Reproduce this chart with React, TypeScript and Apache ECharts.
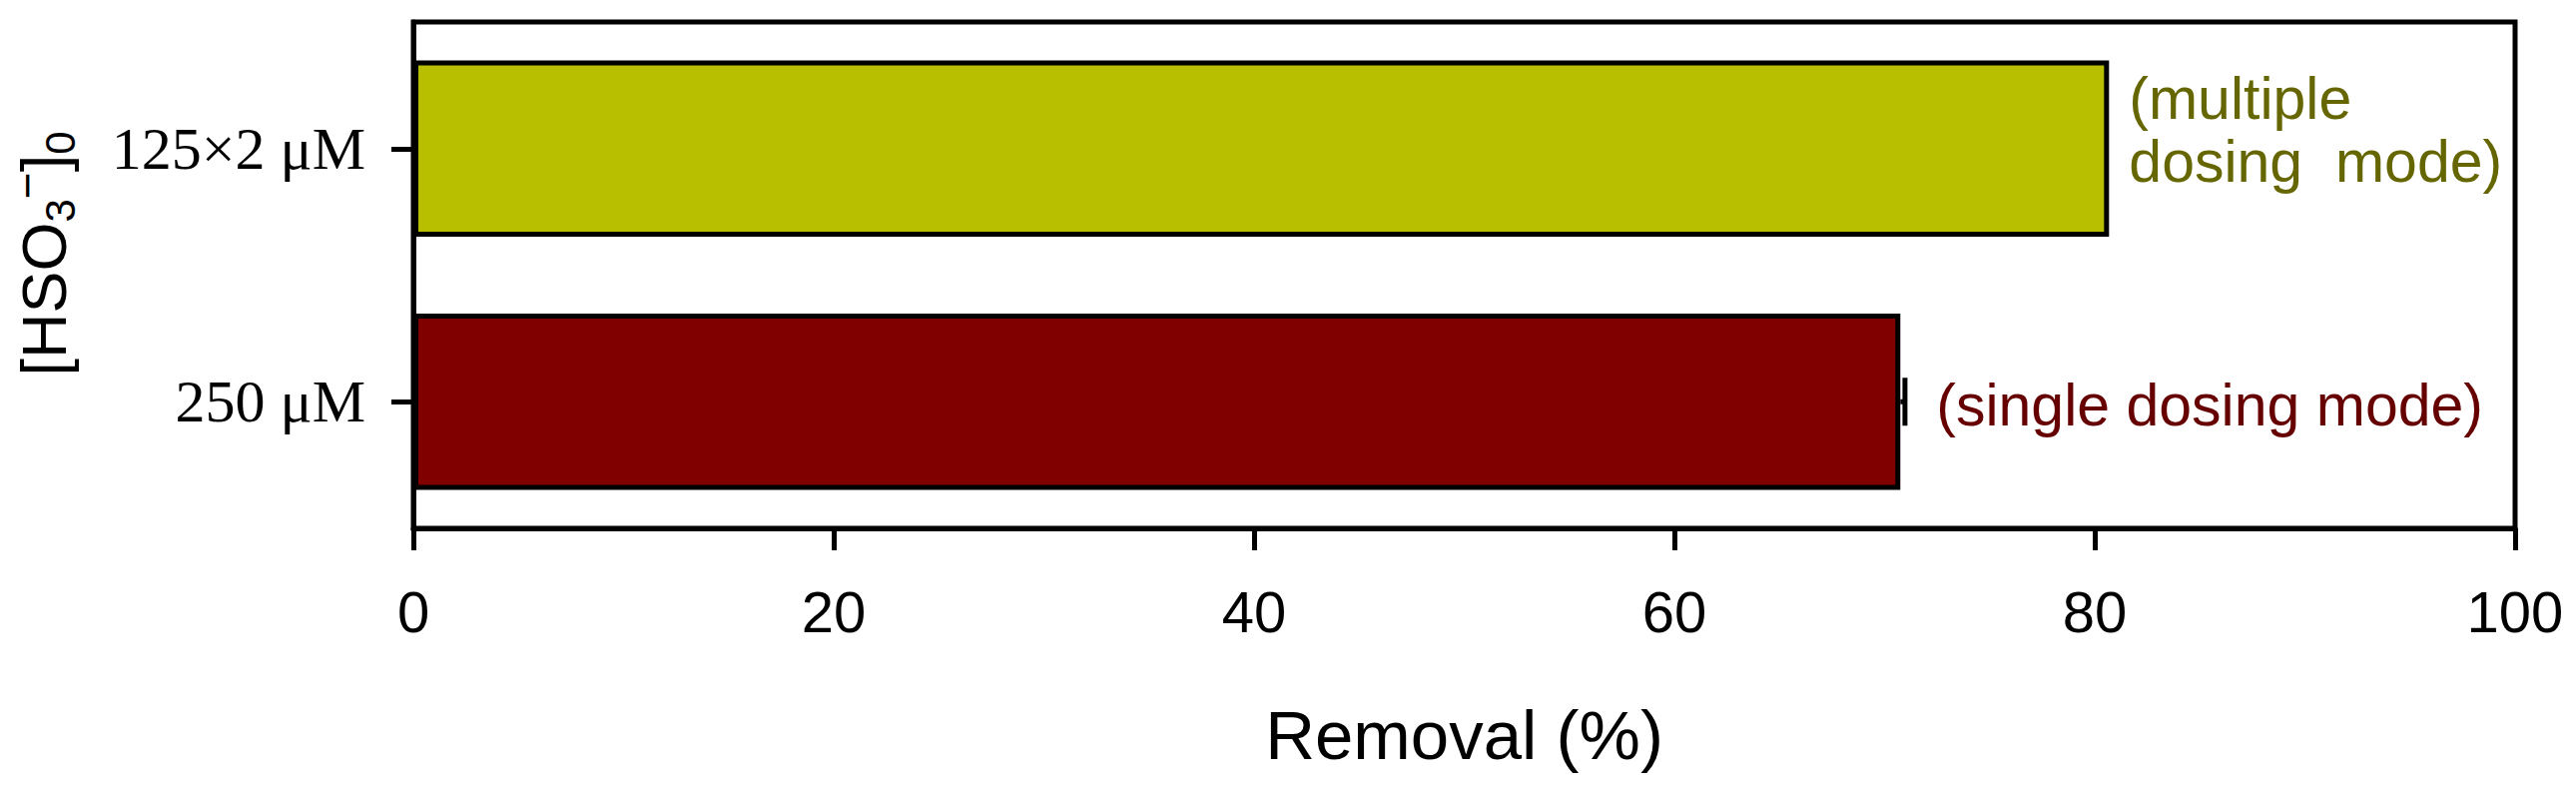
import React, { useEffect, useRef } from "react";
import * as echarts from "echarts";

const categories = ["250 μM", "125×2 μM"];
const removal = [70.75, 80.68];
const removalErr = [0.22, 0];
const notes = ["(single dosing mode)", "(multiple\ndosing  mode)"];
const barColors = ["#800000", "#B8BF00"];
const noteColors = ["#660000", "#666600"];
const xMin = 0;
const xMax = 100;
const xInterval = 20;

const SANS = "'Liberation Sans', Arial, sans-serif";
const SERIF = "'Liberation Serif', 'Times New Roman', serif";

export default function App() {
  const ref = useRef<HTMLDivElement>(null);
  useEffect(() => {
    document.body.style.margin = "0";
    const chart = echarts.init(ref.current!, null, { renderer: "svg" });
    const noteDistance = [36, 20];
    const noteOffset = [[0, 4], [0, -18]];
    chart.setOption({
      animation: false,
      backgroundColor: "#fff",
      grid: {
        left: 414,
        right: 61,
        top: 22,
        bottom: 268,
        show: true,
        borderColor: "#000",
        borderWidth: 5,
        backgroundColor: "transparent",
      },
      xAxis: {
        type: "value",
        min: xMin,
        max: xMax,
        interval: xInterval,
        axisLine: { show: true, lineStyle: { color: "#000", width: 5 } },
        axisTick: { show: true, inside: false, length: 22, lineStyle: { color: "#000", width: 5 } },
        axisLabel: { color: "#000", fontSize: 58, fontFamily: SANS, margin: 54 },
        splitLine: { show: false },
        name: "Removal (%)",
        nameLocation: "middle",
        nameGap: 173,
        nameTextStyle: { color: "#000", fontSize: 69, fontFamily: SANS },
      },
      yAxis: {
        type: "category",
        data: categories,
        axisLine: { show: true, lineStyle: { color: "#000", width: 5 } },
        axisTick: { show: true, alignWithLabel: true, inside: false, length: 22, lineStyle: { color: "#000", width: 5 } },
        axisLabel: { color: "#000", fontSize: 60, fontFamily: SERIF, margin: 48 },
        splitLine: { show: false },
      },
      graphic: [
        {
          type: "text",
          x: 44,
          y: 254,
          rotation: Math.PI / 2,
          style: {
            text: "{a|[HSO}{b|3}{c|−}{a|]}{b|0}",
            align: "center",
            verticalAlign: "middle",
            fill: "#000",
            rich: {
              a: { fontSize: 63, fontFamily: SANS, fill: "#000", lineHeight: 74, height: 74 },
              b: { fontSize: 42, fontFamily: SANS, fill: "#000", verticalAlign: "bottom", height: 42, lineHeight: 42 },
              c: { fontSize: 46, fontFamily: SANS, fill: "#000", verticalAlign: "top", height: 40, lineHeight: 40 },
            },
          },
        },
      ],
      series: [
        {
          type: "bar",
          barCategoryGap: "30.4%",
          data: removal.map((v, i) => ({
            value: v,
            itemStyle: { color: barColors[i], borderColor: "#000", borderWidth: 5 },
            label: {
              show: true,
              position: "right",
              distance: noteDistance[i],
              offset: noteOffset[i],
              formatter: () => notes[i],
              color: noteColors[i],
              fontSize: 59,
              lineHeight: 63,
              fontFamily: SANS,
              align: "left",
            },
          })),
          z: 2,
        },
        {
          type: "custom",
          z: 3,
          encode: { x: 0, y: 2 },
          data: removal.map((v, i) => [v, removalErr[i], i]),
          renderItem: (params: any, api: any) => {
            const v = api.value(0);
            const e = api.value(1);
            const c = api.value(2);
            if (!e) return null;
            const p0 = api.coord([v, c]);
            const p1 = api.coord([v + e, c]);
            const h = 24;
            return {
              type: "group",
              children: [
                { type: "line", shape: { x1: p0[0], y1: p0[1], x2: p1[0], y2: p1[1] }, style: { stroke: "#000", lineWidth: 5 } },
                { type: "line", shape: { x1: p1[0], y1: p1[1] - h, x2: p1[0], y2: p1[1] + h }, style: { stroke: "#000", lineWidth: 5 } },
              ],
            };
          },
        },
      ],
    });
    return () => chart.dispose();
  }, []);
  return <div ref={ref} style={{ width: 2580, height: 797 }} />;
}
